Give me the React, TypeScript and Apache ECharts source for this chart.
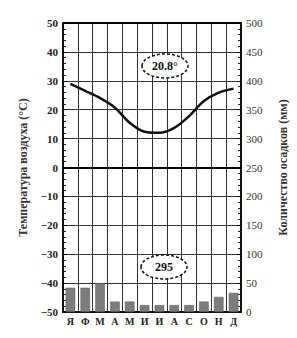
import React, { useEffect, useRef } from "react";
import * as echarts from "echarts";

const months = ["Я", "Ф", "М", "А", "М", "И", "И", "А", "С", "О", "Н", "Д"];
const temperature = [28.9, 26.5, 24, 20.7, 15.5, 12.4, 12, 13.7, 17.8, 23, 25.9, 27.3];
const precipitation = [42, 42, 50, 18, 18, 12, 12, 12, 12, 18, 26, 33];
const meanTempLabel = "20.8°";
const totalPrecipLabel = "295";

const FONT = "'Liberation Serif', 'DejaVu Serif', serif";

export default function App() {
  const ref = useRef<HTMLDivElement>(null);
  useEffect(() => {
    if (!ref.current) return;
    const chart = echarts.init(ref.current, undefined, { renderer: "svg" });
    const minus = (v: number) => String(v).replace("-", "−");
    chart.setOption({
      animation: false,
      backgroundColor: "#fff",
      grid: { left: 63, right: 47, top: 23, bottom: 26 },
      xAxis: {
        type: "category",
        data: months,
        boundaryGap: true,
        axisLine: { onZero: false, lineStyle: { color: "#111", width: 2 } },
        axisTick: { show: false },
        axisLabel: { interval: 0, color: "#222", fontFamily: FONT, fontWeight: "bold", fontSize: 10, margin: 4 },
        splitLine: { show: true, interval: 0, lineStyle: { color: "#333", width: 1 } },
      },
      yAxis: [
        {
          type: "value",
          min: -50,
          max: 50,
          interval: 10,
          position: "left",
          name: "Температура воздуха (°C)",
          nameLocation: "middle",
          nameRotate: 90,
          nameGap: 34,
          nameTextStyle: { fontFamily: FONT, fontSize: 12, color: "#333", fontWeight: "bold" },
          axisLine: { show: true, lineStyle: { color: "#111", width: 2 } },
          axisTick: { show: true, inside: true, length: 4, lineStyle: { color: "#111" } },
          minorTick: { show: true, splitNumber: 5, length: 3, lineStyle: { color: "#222" } },
          axisLabel: { color: "#222", fontFamily: FONT, fontWeight: "bold", fontSize: 11, margin: 5, formatter: minus },
          splitLine: { show: true, lineStyle: { color: "#333", width: 1 } },
        },
        {
          type: "value",
          min: 0,
          max: 500,
          interval: 50,
          position: "right",
          name: "Количество осадков (мм)",
          nameLocation: "middle",
          nameRotate: 90,
          nameGap: 36,
          nameTextStyle: { fontFamily: FONT, fontSize: 12, color: "#333", fontWeight: "bold" },
          axisLine: { show: true, lineStyle: { color: "#111", width: 2 } },
          axisTick: { show: true, inside: true, length: 4, lineStyle: { color: "#111" } },
          minorTick: { show: true, splitNumber: 5, length: 3, lineStyle: { color: "#222" } },
          axisLabel: { color: "#333", fontFamily: FONT, fontSize: 11, margin: 5 },
          splitLine: { show: false },
        },
      ],
      series: [
        {
          type: "bar",
          yAxisIndex: 1,
          data: precipitation,
          barWidth: "64%",
          itemStyle: { color: "#7d7d7d", borderColor: "#555", borderWidth: 0.5 },
          z: 2,
        },
        {
          type: "line",
          yAxisIndex: 0,
          data: temperature,
          smooth: 0.35,
          showSymbol: false,
          lineStyle: { color: "#111", width: 2.5 },
          z: 4,
          markLine: {
            silent: true,
            symbol: "none",
            label: { show: false },
            lineStyle: { color: "#000", width: 2, type: "solid" },
            data: [{ yAxis: 0 }, { yAxis: 50 }],
          },
        },
      ],
      graphic: [
        {
          type: "ellipse",
          shape: { cx: 165, cy: 66, rx: 23, ry: 12 },
          style: { fill: "#fff", stroke: "#111", lineWidth: 1.5, lineDash: [3, 2] },
          z: 10,
        },
        {
          type: "text",
          x: 165,
          y: 66,
          style: { text: meanTempLabel, fontFamily: FONT, fontSize: 12, fontWeight: "bold", fill: "#111", align: "center", verticalAlign: "middle" },
          z: 11,
        },
        {
          type: "ellipse",
          shape: { cx: 164, cy: 267, rx: 23, ry: 12 },
          style: { fill: "#fff", stroke: "#111", lineWidth: 1.5, lineDash: [3, 2] },
          z: 10,
        },
        {
          type: "text",
          x: 164,
          y: 267,
          style: { text: totalPrecipLabel, fontFamily: FONT, fontSize: 12, fontWeight: "bold", fill: "#111", align: "center", verticalAlign: "middle" },
          z: 11,
        },
      ],
    });
    return () => chart.dispose();
  }, []);
  return <div ref={ref} style={{ width: 297, height: 338, position: "absolute", left: 0, top: 0 }} />;
}
